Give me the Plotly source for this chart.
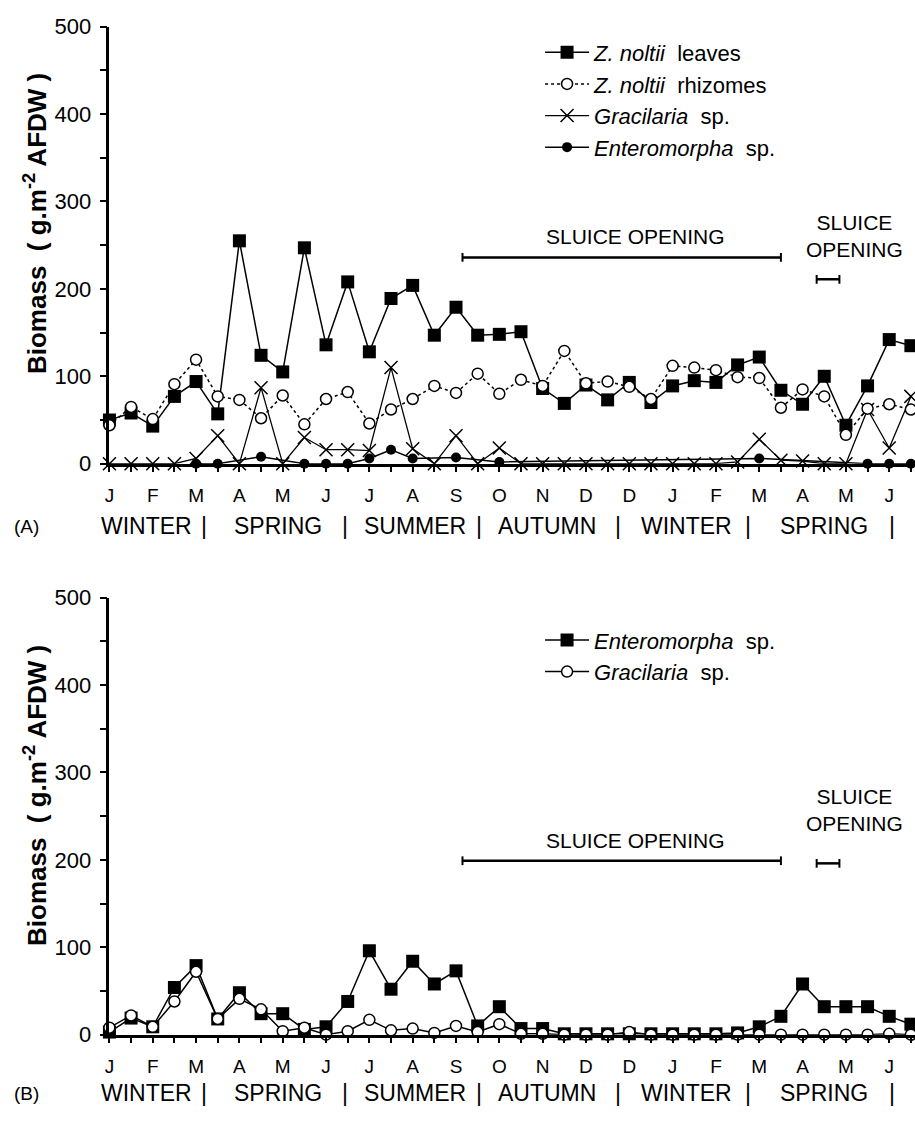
import plotly.graph_objects as go

W, H = 915, 1121

# ---------------- data ----------------
x_idx = list(range(38))
month_labels = ["J", "F", "M", "A", "M", "J", "J", "A", "S", "O", "N", "D", "D",
                "J", "F", "M", "A", "M", "J"]

# Panel A
zn_leaves = [50, 58, 43, 77, 94, 57, 255, 124, 105, 247, 136, 208, 128, 189, 204, 147,
             179, 147, 148, 151, 86, 69, 90, 73, 93, 70, 89, 95, 93, 113, 122, 84,
             68, 100, 44, 89, 142, 135]
zn_rhizomes = [44, 65, 51, 91, 119, 77, 73, 52, 78, 45, 74, 82, 46, 62, 74, 89,
               81, 103, 80, 96, 89, 129, 92, 94, 88, 74, 112, 110, 107, 99, 98, 64,
               85, 77, 33, 63, 68, 62]
gracilaria_a = [0, 0, 0, 0, 6, 32, 0, 87, 0, 30, 16, 16, 15, 110, 17, 0,
                32, 0, 18, 0, 0, 0, 0, 0, 0, 0, 0, 0, 0, 2, 28, 4,
                3, 0, 0, 62, 18, 77]
enteromorpha_a = [None, None, None, None, 0, 0, None, 8, None, 0, 0, 0, 6, 16, 6, None,
                  7, None, 2, None, None, None, None, None, None, None, None, None, None, None, 6, None,
                  None, None, None, 0, 0, 0]

# Panel B
enteromorpha_b = [3, 19, 9, 54, 79, 18, 48, 24, 24, 6, 9, 38, 96, 52, 84, 58,
                  73, 10, 32, 7, 7, 1, 1, 1, 1, 1, 1, 1, 1, 2, 9, 21,
                  58, 32, 32, 32, 21, 12]
gracilaria_b = [8, 22, 9, 38, 72, 18, 41, 29, 4, 8, 0, 4, 17, 5, 7, 2,
                10, 3, 12, 1, 1, 0, 0, 0, 3, 0, 0, 0, 0, 0, 0, 0,
                0, 0, 0, 0, 1, 0]

seasons = ["WINTER", "|", "SPRING", "|", "SUMMER", "|", "AUTUMN", "|", "WINTER", "|", "SPRING", "|"]

# sluice opening periods (sample-index units)
sluice_long = (16.3, 31.0)
sluice_short = (32.65, 33.7)

FONT = "Liberation Sans, Arial, Helvetica, sans-serif"

fig = go.Figure()

common = dict(mode="lines+markers", cliponaxis=False, connectgaps=True)

# ---- panel A traces ----
fig.add_trace(go.Scatter(x=x_idx, y=zn_leaves, name="<i>Z. noltii</i>  leaves",
                         line=dict(color="black", width=1.5),
                         marker=dict(symbol="square", size=13, color="black"),
                         xaxis="x", yaxis="y", legend="legend", legendrank=1, **common))
fig.add_trace(go.Scatter(x=x_idx, y=gracilaria_a, name="<i>Gracilaria</i>  sp.",
                         line=dict(color="black", width=1.3),
                         marker=dict(symbol="x-thin", size=13, color="black",
                                     line=dict(color="black", width=1.5)),
                         xaxis="x", yaxis="y", legend="legend", legendrank=3, **common))
fig.add_trace(go.Scatter(x=x_idx, y=enteromorpha_a, name="<i>Enteromorpha</i>  sp.",
                         line=dict(color="black", width=1.5),
                         marker=dict(symbol="circle", size=10, color="black"),
                         xaxis="x", yaxis="y", legend="legend", legendrank=4, **common))
fig.add_trace(go.Scatter(x=x_idx, y=zn_rhizomes, name="<i>Z. noltii</i>  rhizomes",
                         line=dict(color="black", width=1.5, dash="dot"),
                         marker=dict(symbol="circle", size=11, color="white",
                                     line=dict(color="black", width=1.5)),
                         xaxis="x", yaxis="y", legend="legend", legendrank=2, **common))

# ---- panel B traces ----
fig.add_trace(go.Scatter(x=x_idx, y=enteromorpha_b, name="<i>Enteromorpha</i>  sp.",
                         line=dict(color="black", width=1.5),
                         marker=dict(symbol="square", size=13, color="black"),
                         xaxis="x2", yaxis="y2", legend="legend2", **common))
fig.add_trace(go.Scatter(x=x_idx, y=gracilaria_b, name="<i>Gracilaria</i>  sp.",
                         line=dict(color="black", width=1.5),
                         marker=dict(symbol="circle", size=11, color="white",
                                     line=dict(color="black", width=1.5)),
                         xaxis="x2", yaxis="y2", legend="legend2", **common))

# ---- axes ----
def px_to_paper_y(py):
    return 1 - py / H

xdom = [105 / W, 1.0]
xrange = [0, (915 - 105) / 21.78]
tickvals = x_idx
ticktext = [month_labels[i // 2] if i % 2 == 0 else " " for i in x_idx]

xaxis_common = dict(range=xrange, domain=xdom, showline=True, linecolor="black", linewidth=2.5,
                    ticks="outside", ticklen=6, tickwidth=2, tickcolor="black",
                    tickvals=tickvals, ticktext=ticktext, showgrid=False, zeroline=False,
                    tickfont=dict(family=FONT, size=19, color="black"),
                    ticklabelstandoff=7, fixedrange=True)
yaxis_common = dict(range=[0, 500], showline=True, linecolor="black", linewidth=2.5,
                    ticks="outside", ticklen=7, tickwidth=2, tickcolor="black",
                    tickvals=[0, 100, 200, 300, 400, 500], showgrid=False, zeroline=False,
                    minor=dict(dtick=50, ticks="outside", ticklen=7, tickwidth=2, tickcolor="black",
                               showgrid=False),
                    tickfont=dict(family=FONT, size=22, color="black"),
                    ticklabelstandoff=4, fixedrange=True)

fig.update_layout(
    xaxis=dict(anchor="y", **xaxis_common),
    yaxis=dict(anchor="x", domain=[px_to_paper_y(462), px_to_paper_y(15)], **yaxis_common),
    xaxis2=dict(anchor="y2", **xaxis_common),
    yaxis2=dict(anchor="x2", domain=[px_to_paper_y(1046), px_to_paper_y(599)], **yaxis_common),
)

# ---- legends ----
leg_common = dict(xanchor="left", yanchor="top", bgcolor="rgba(0,0,0,0)",
                  font=dict(family=FONT, size=22, color="black"),
                  itemclick=False, itemdoubleclick=False, tracegroupgap=0, itemwidth=44)
fig.update_layout(
    legend=dict(x=538 / W, y=px_to_paper_y(20), traceorder="normal", **leg_common),
    legend2=dict(x=538 / W, y=px_to_paper_y(621), **leg_common),
    showlegend=True,
)

# ---- annotations ----
ann = []
ytitle = "<b>Biomass  ( g.m<sup>-2</sup> AFDW )</b>"
for cy in (216, 801):
    ann.append(dict(text=ytitle, x=30 / W, y=px_to_paper_y(cy), xref="paper", yref="paper",
                    textangle=-90, showarrow=False, xanchor="center", yanchor="middle",
                    font=dict(family=FONT, size=26, color="black")))

season_px = [142, 200, 274, 342, 412, 477, 545, 616, 685, 747, 824, 892]
for row_y, tag in ((526, "(A)"), (1106, "(B)")):
    for s, sx in zip(seasons, season_px):
        ann.append(dict(text=s, x=sx / W, y=px_to_paper_y(row_y), xref="paper", yref="paper",
                        showarrow=False, xanchor="center", yanchor="middle",
                        font=dict(family=FONT, size=23, color="black")))
    ann.append(dict(text=tag, x=22 / W, y=px_to_paper_y(row_y), xref="paper", yref="paper",
                    showarrow=False, xanchor="center", yanchor="middle",
                    font=dict(family=FONT, size=19, color="black")))

# sluice labels (data coordinates)
for xr, yr, y_long_txt, y_short_txt in (("x", "y", 260, 261), ("x2", "y2", 222, 257)):
    ann.append(dict(text="SLUICE OPENING", x=(sluice_long[0] + sluice_long[1]) / 2 + 0.65,
                    y=y_long_txt, xref=xr, yref=yr, showarrow=False,
                    xanchor="center", yanchor="middle",
                    font=dict(family=FONT, size=21, color="black")))
    ann.append(dict(text="SLUICE<br>OPENING", x=34.4, y=y_short_txt, xref=xr, yref=yr,
                    showarrow=False, xanchor="center", yanchor="middle",
                    font=dict(family=FONT, size=21, color="black")))

fig.update_layout(annotations=ann)

# sluice bars
shapes = []
for xr, yr, yl, ys in (("x", "y", 236, 211), ("x2", "y2", 199, 196)):
    for (x0, x1), yy in ((sluice_long, yl), (sluice_short, ys)):
        shapes.append(dict(type="line", x0=x0, x1=x1, y0=yy, y1=yy, xref=xr, yref=yr,
                           line=dict(color="black", width=2.5)))
        for xc in (x0, x1):
            shapes.append(dict(type="line", x0=xc, x1=xc, y0=yy - 5, y1=yy + 5,
                               xref=xr, yref=yr, line=dict(color="black", width=2)))
fig.update_layout(shapes=shapes)

fig.update_layout(width=W, height=H, margin=dict(l=0, r=0, t=0, b=0),
                  paper_bgcolor="white", plot_bgcolor="white",
                  font=dict(family=FONT, color="black"))

fig.write_html("out.html", config={"displayModeBar": False})
